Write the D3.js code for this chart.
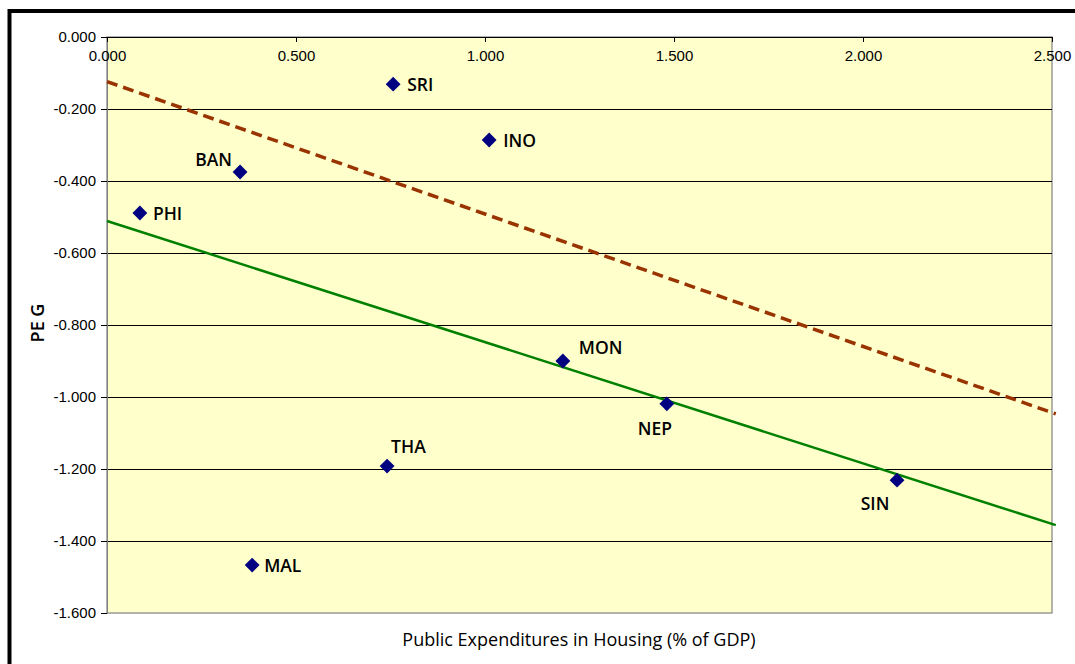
<!DOCTYPE html>
<html>
<head>
<meta charset="utf-8">
<script src="https://cdn.jsdelivr.net/npm/d3@7"></script>
<style>
  body { margin: 0; background: #fff; }
  svg { display: block; }
</style>
</head>
<body>
<script>
// values
const countries = ['SRI', 'INO', 'BAN', 'PHI', 'MON', 'NEP', 'SIN', 'THA', 'MAL'];
const housing = [0.757, 1.011, 0.352, 0.087, 1.206, 1.481, 2.090, 0.741, 0.384];
const peg = [-0.131, -0.286, -0.375, -0.489, -0.900, -1.019, -1.231, -1.192, -1.467];

const xTicks = [0, 0.5, 1.0, 1.5, 2.0, 2.5];
const yTicks = [0, -0.2, -0.4, -0.6, -0.8, -1.0, -1.2, -1.4, -1.6];

// two fitted lines (end points)
const fitX = [0, 2.51];
const fitSolid = [-0.511, -1.356];
const fitDashed = [-0.124, -1.047];

// label placement relative to its marker (style only)
const labelPos = {
  SRI: { dx: 14, dy: 7, anchor: 'start' },
  INO: { dx: 14, dy: 7, anchor: 'start' },
  BAN: { dx: -8, dy: -6, anchor: 'end' },
  PHI: { dx: 13, dy: 7, anchor: 'start' },
  MON: { dx: 16, dy: -7, anchor: 'start' },
  NEP: { dx: -12, dy: 31, anchor: 'middle' },
  SIN: { dx: -22, dy: 30, anchor: 'middle' },
  THA: { dx: 4, dy: -13, anchor: 'start' },
  MAL: { dx: 12, dy: 7, anchor: 'start' },
};

const width = 1075;
const height = 664;
const margin = { top: 37, right: 23, bottom: 51, left: 107 };

// plain hyphen for negatives, like the original
const fmt = (d) => d3.format('.3f')(d).replace('\u2212', '-');

const svg = d3.select('body')
  .append('svg')
  .attr('width', width)
  .attr('height', height);

// outer chart frame (runs off the right and bottom)
svg.append('rect')
  .attr('x', 9.5)
  .attr('y', 11)
  .attr('width', width + 20)
  .attr('height', height + 20)
  .attr('fill', '#fff')
  .attr('stroke', '#000')
  .attr('stroke-width', 4);

const x = d3.scaleLinear()
  .domain([0, 2.5])
  .range([margin.left, width - margin.right]);
const y = d3.scaleLinear()
  .domain([-1.6, 0])
  .range([height - margin.bottom, margin.top]);

// plot area
svg.append('rect')
  .attr('x', x(0))
  .attr('y', y(0))
  .attr('width', x(2.5) - x(0))
  .attr('height', y(-1.6) - y(0))
  .attr('fill', '#ffffcc')
  .attr('stroke', '#808080')
  .attr('stroke-width', 1.2);

// gridlines
svg.append('g')
  .selectAll('line')
  .data(yTicks.filter((d) => d !== 0 && d !== -1.6))
  .join('line')
  .attr('x1', x(0))
  .attr('x2', x(2.5))
  .attr('y1', (d) => Math.round(y(d)) + 0.5)
  .attr('y2', (d) => Math.round(y(d)) + 0.5)
  .attr('stroke', '#000')
  .attr('stroke-width', 1);

// y axis, tick labels on the left
const yAxis = svg.append('g')
  .attr('transform', `translate(${x(0)},0)`)
  .call(d3.axisLeft(y).tickValues(yTicks).tickFormat(fmt).tickSizeOuter(0).tickSize(6).tickPadding(5));
yAxis.select('.domain').attr('stroke', '#808080');
yAxis.selectAll('.tick line').attr('stroke', '#000');
yAxis.selectAll('text')
  .attr('font-family', 'Liberation Sans, Arial, sans-serif')
  .attr('font-size', 15)
  .attr('fill', '#000');

// x axis sits on the top edge (y = 0), labels just below it
const xAxis = svg.append('g')
  .attr('transform', `translate(0,${y(0)})`)
  .call(d3.axisBottom(x).tickValues(xTicks).tickFormat(fmt).tickSizeOuter(0).tickSize(5).tickPadding(8));
xAxis.select('.domain').attr('stroke', '#000');
xAxis.selectAll('.tick line').attr('stroke', '#000');
xAxis.selectAll('text')
  .attr('font-family', 'Liberation Sans, Arial, sans-serif')
  .attr('font-size', 15)
  .attr('fill', '#000');

// fitted lines
const line = d3.line()
  .x((d) => x(d[0]))
  .y((d) => y(d[1]));

svg.append('path')
  .datum(d3.zip(fitX, fitDashed))
  .attr('d', line)
  .attr('fill', 'none')
  .attr('stroke', '#993300')
  .attr('stroke-width', 3.5)
  .attr('stroke-dasharray', '11,6');

svg.append('path')
  .datum(d3.zip(fitX, fitSolid))
  .attr('d', line)
  .attr('fill', 'none')
  .attr('stroke', '#008000')
  .attr('stroke-width', 2.5);

// points
const points = countries.map((name, i) => ({ name, housing: housing[i], peg: peg[i] }));

svg.append('g')
  .selectAll('path')
  .data(points)
  .join('path')
  .attr('d', d3.symbol(d3.symbolSquare, 110))
  .attr('transform', (d) => `translate(${x(d.housing)},${y(d.peg)}) rotate(45)`)
  .attr('fill', '#000080');

svg.append('g')
  .selectAll('text')
  .data(points)
  .join('text')
  .attr('x', (d) => x(d.housing) + labelPos[d.name].dx)
  .attr('y', (d) => y(d.peg) + labelPos[d.name].dy)
  .attr('text-anchor', (d) => labelPos[d.name].anchor)
  .attr('font-family', 'Open Sans, sans-serif')
  .attr('font-weight', 600)
  .attr('font-size', 17.5)
  .attr('fill', '#000')
  .text((d) => d.name);

// axis titles
svg.append('text')
  .attr('x', 579)
  .attr('y', 646)
  .attr('text-anchor', 'middle')
  .attr('font-family', 'Open Sans, sans-serif')
  .attr('font-weight', 500)
  .attr('font-size', 18)
  .attr('fill', '#000')
  .text('Public Expenditures in Housing (% of GDP)');

svg.append('text')
  .attr('transform', 'translate(44,323) rotate(-90)')
  .attr('text-anchor', 'middle')
  .attr('font-family', 'Open Sans, sans-serif')
  .attr('font-weight', 600)
  .attr('font-size', 18)
  .attr('fill', '#000')
  .text('PE G');
</script>
</body>
</html>
